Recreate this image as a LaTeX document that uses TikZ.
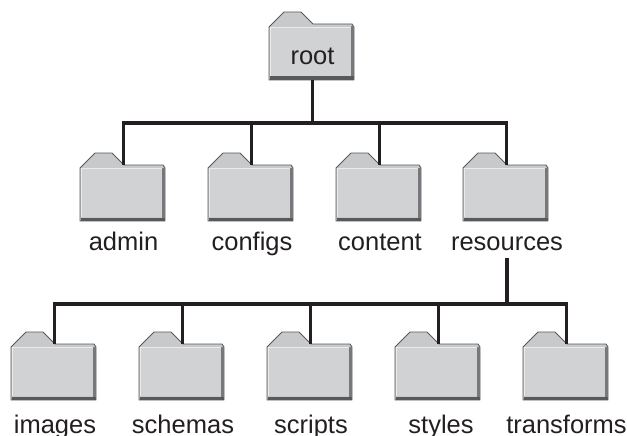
\documentclass[tikz,border=0pt]{standalone}
\usepackage{fontspec}
\setmainfont{Liberation Sans}
\definecolor{fbody}{HTML}{D1D2D4}
\definecolor{ftab}{HTML}{C8C9CB}
\definecolor{fedge}{HTML}{58595B}
\definecolor{fshade}{HTML}{77787B}
\definecolor{ink}{HTML}{231F20}
\tikzset{
  folderbody/.style={minimum width=84pt,minimum height=48pt,inner sep=0pt,outer sep=0pt,font=\fontsize{25.5}{26}\selectfont,text=ink},
  foldername/.style={anchor=base,inner sep=0pt,font=\fontsize{25.5}{26}\selectfont,text=ink},
  link/.style={draw=ink,line width=3.2pt}
}
% #1 node name, #2 left x, #3 tab top y, #4 text inside the body
\newcommand{\folderdraw}[4]{%
  \begin{scope}[shift={(#2,#3)}]
    \fill[ftab,draw=fedge,line width=0.9pt,line join=round] (0,15)--(15,0)--(32,0)--(44,12)--(83,12)--(85,15)--(85,68)--(0,68)--cycle;
    \fill[fbody] (2,15.5) rectangle (82,64);
    \draw[white!92!black,line width=1.1pt] (1.5,64)--(1.5,15.5)--(83,15.5);
    \fill[fshade] (82,14.5) rectangle (85,68);
    \fill[fedge] (1,64.5) rectangle (85,68);
    \node[folderbody] (#1) at (43.5,44) {#4};
  \end{scope}}
\begin{document}
\begin{tikzpicture}[x=1pt,y=-1pt]
\useasboundingbox (0,0) rectangle (627,436);
\clip (0,0) rectangle (627,436);
\folderdraw{root}{269}{12}{root}
\folderdraw{admin}{80}{153}{}
\folderdraw{configs}{208}{153}{}
\folderdraw{content}{336}{153}{}
\folderdraw{resources}{463}{153}{}
\folderdraw{images}{11}{332}{}
\folderdraw{schemas}{139}{332}{}
\folderdraw{scripts}{267}{332}{}
\folderdraw{styles}{395}{332}{}
\folderdraw{transforms}{523}{332}{}
\node[foldername] (ladmin) at (123.5,250) {admin};
\node[foldername] (lconfigs) at (252,250) {configs};
\node[foldername] (lcontent) at (380,250) {content};
\node[foldername] (lresources) at (507,250) {resources};
\node[foldername] (limages) at (55,433) {images};
\node[foldername] (lschemas) at (183,433) {schemas};
\node[foldername] (lscripts) at (311,433) {scripts};
\node[foldername] (lstyles) at (441,433) {styles};
\node[foldername] (ltransforms) at (566.5,433) {transforms};
\coordinate (bus1) at (312,123);
\coordinate (bus2) at (507,304);
\coordinate (res) at (507,258);
\draw[link] (root.south) -- (root.south |- bus1);
\draw[link,line join=miter] (admin.north |- 0,165) -- (admin.north |- bus1) -- (resources.north |- bus1) -- (resources.north |- 0,165);
\draw[link] (configs.north |- bus1) -- (configs.north |- 0,165);
\draw[link] (content.north |- bus1) -- (content.north |- 0,165);
\draw[link] (res) -- (res |- bus2);
\draw[link] (images.north |- 0,344) -- (images.north |- bus2) -- (transforms.north |- bus2) -- (transforms.north |- 0,344);
\draw[link] (schemas.north |- bus2) -- (schemas.north |- 0,344);
\draw[link] (scripts.north |- bus2) -- (scripts.north |- 0,344);
\draw[link] (styles.north |- bus2) -- (styles.north |- 0,344);
\end{tikzpicture}
\end{document}
